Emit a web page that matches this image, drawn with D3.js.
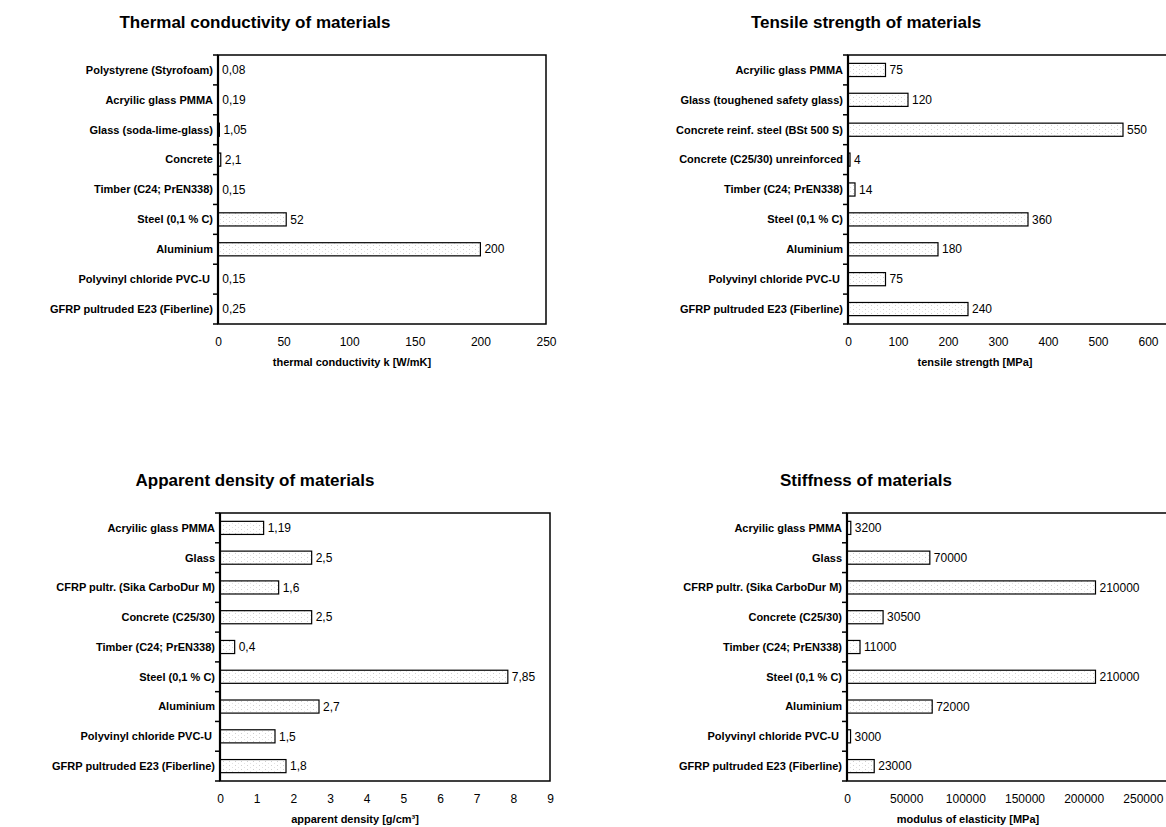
<!DOCTYPE html>
<html>
<head>
<meta charset="utf-8">
<script src="https://cdn.jsdelivr.net/npm/d3@7/dist/d3.min.js"></script>
<style>
  html, body { margin: 0; padding: 0; background: #fff; }
  svg { display: block; font-family: "Liberation Sans", Arial, sans-serif; }
</style>
</head>
<body>
<svg id="chart" width="1166" height="827"></svg>
<script>
// ---------- DATA ----------
const thermalCategories = ["Polystyrene (Styrofoam)", "Acryilic glass PMMA", "Glass (soda-lime-glass)", "Concrete", "Timber (C24; PrEN338)", "Steel (0,1 % C)", "Aluminium", "Polyvinyl chloride PVC-U ", "GFRP pultruded E23 (Fiberline)"];
const thermalValues = [0.08, 0.19, 1.05, 2.1, 0.15, 52, 200, 0.15, 0.25];
const thermalTicks = [0, 50, 100, 150, 200, 250];

const tensileCategories = ["Acryilic glass PMMA", "Glass (toughened safety glass)", "Concrete reinf. steel (BSt 500 S)", "Concrete (C25/30) unreinforced", "Timber (C24; PrEN338)", "Steel (0,1 % C)", "Aluminium", "Polyvinyl chloride PVC-U ", "GFRP pultruded E23 (Fiberline)"];
const tensileValues = [75, 120, 550, 4, 14, 360, 180, 75, 240];
const tensileTicks = [0, 100, 200, 300, 400, 500, 600];

const densityCategories = ["Acryilic glass PMMA", "Glass", "CFRP pultr. (Sika CarboDur M)", "Concrete (C25/30)", "Timber (C24; PrEN338)", "Steel (0,1 % C)", "Aluminium", "Polyvinyl chloride PVC-U ", "GFRP pultruded E23 (Fiberline)"];
const densityValues = [1.19, 2.5, 1.6, 2.5, 0.4, 7.85, 2.7, 1.5, 1.8];
const densityTicks = [0, 1, 2, 3, 4, 5, 6, 7, 8, 9];

const stiffnessCategories = ["Acryilic glass PMMA", "Glass", "CFRP pultr. (Sika CarboDur M)", "Concrete (C25/30)", "Timber (C24; PrEN338)", "Steel (0,1 % C)", "Aluminium", "Polyvinyl chloride PVC-U ", "GFRP pultruded E23 (Fiberline)"];
const stiffnessValues = [3200, 70000, 210000, 30500, 11000, 210000, 72000, 3000, 23000];
const stiffnessTicks = [0, 50000, 100000, 150000, 200000, 250000];

const chartTitles = ["Thermal conductivity of materials", "Tensile strength of materials", "Apparent density of materials", "Stiffness of materials"];
const axisTitles = ["thermal conductivity k [W/mK]", "tensile strength [MPa]", "apparent density [g/cm\u00B3]", "modulus of elasticity [MPa]"];

// ---------- DRAWING ----------
const svg = d3.select("#chart");
const defs = svg.append("defs");
const pat = defs.append("pattern").attr("id", "dots")
  .attr("patternUnits", "userSpaceOnUse").attr("width", 6).attr("height", 4);
pat.append("rect").attr("width", 6).attr("height", 4).attr("fill", "#fff");
pat.append("rect").attr("x", 1).attr("y", 1).attr("width", 1).attr("height", 1).attr("fill", "#cfcfcf");
pat.append("rect").attr("x", 4).attr("y", 3).attr("width", 1).attr("height", 1).attr("fill", "#e2e2e2");

const fmt = v => String(v).replace(".", ",");

function drawChart(o) {
  const g = svg.append("g");
  const x = d3.scaleLinear().domain(o.domain).range([o.left, o.right]);
  const y = d3.scaleBand().domain(o.categories).range([o.top, o.bottom]).paddingInner(0.56).paddingOuter(0.28);

  g.append("text").attr("x", o.titleX).attr("y", o.top - 27)
    .attr("text-anchor", "middle").attr("font-size", 17).attr("font-weight", "bold")
    .text(o.title);

  g.append("rect").attr("x", o.left).attr("y", o.top)
    .attr("width", o.right - o.left).attr("height", o.bottom - o.top)
    .attr("fill", "none").attr("stroke", "#000").attr("stroke-width", 1.5);

  g.selectAll("rect.bar").data(o.values).join("rect").attr("class", "bar")
    .attr("x", x(0))
    .attr("y", (d, i) => y(o.categories[i]))
    .attr("width", d => x(d) - x(0))
    .attr("height", y.bandwidth())
    .attr("fill", "url(#dots)").attr("stroke", "#000").attr("stroke-width", 1.2);

  g.selectAll("text.val").data(o.values).join("text").attr("class", "val")
    .attr("x", d => x(d) + 4)
    .attr("y", (d, i) => y(o.categories[i]) + y.bandwidth() / 2)
    .attr("dy", "0.35em").attr("font-size", 12)
    .text(d => fmt(d));

  const boundaries = d3.range(o.categories.length + 1).map(i => o.top + i * (o.bottom - o.top) / o.categories.length);
  g.selectAll("line.tk").data(boundaries).join("line").attr("class", "tk")
    .attr("x1", o.left - 5).attr("x2", o.left).attr("y1", d => d).attr("y2", d => d)
    .attr("stroke", "#000").attr("stroke-width", 1.5);
  g.append("line").attr("x1", o.left).attr("x2", o.left).attr("y1", o.top).attr("y2", o.bottom)
    .attr("stroke", "#000").attr("stroke-width", 2.2);

  g.selectAll("text.cat").data(o.categories).join("text").attr("class", "cat")
    .attr("x", o.left - 5)
    .attr("y", d => y(d) + y.bandwidth() / 2)
    .attr("dy", "0.35em").attr("text-anchor", "end")
    .attr("font-size", 11).attr("font-weight", "bold")
    .style("white-space", "pre")
    .text(d => d);

  const ax = d3.axisBottom(x).tickValues(o.ticks).tickSize(0).tickPadding(13).tickFormat(d => String(d));
  const axg = g.append("g").attr("transform", `translate(0,${o.bottom})`).call(ax);
  axg.select(".domain").remove();
  axg.selectAll("text").attr("font-size", 12).attr("font-family", "Liberation Sans, Arial, sans-serif");

  g.append("text").attr("x", o.axisTitleX).attr("y", o.bottom + 42)
    .attr("text-anchor", "middle").attr("font-size", 11).attr("font-weight", "bold")
    .text(o.axisTitle);
}

drawChart({ categories: thermalCategories, values: thermalValues, ticks: thermalTicks, domain: [0, 250],
  left: 218, right: 546, top: 55, bottom: 324, title: chartTitles[0], titleX: 255, axisTitle: axisTitles[0], axisTitleX: 352 });
drawChart({ categories: tensileCategories, values: tensileValues, ticks: tensileTicks, domain: [0, 700],
  left: 848, right: 1198, top: 55, bottom: 324, title: chartTitles[1], titleX: 866, axisTitle: axisTitles[1], axisTitleX: 975 });
drawChart({ categories: densityCategories, values: densityValues, ticks: densityTicks, domain: [0, 9],
  left: 220, right: 550, top: 513, bottom: 781, title: chartTitles[2], titleX: 255, axisTitle: axisTitles[2], axisTitleX: 355 });
drawChart({ categories: stiffnessCategories, values: stiffnessValues, ticks: stiffnessTicks, domain: [0, 300000],
  left: 847, right: 1202, top: 513, bottom: 781, title: chartTitles[3], titleX: 866, axisTitle: axisTitles[3], axisTitleX: 968 });
</script>
</body>
</html>
